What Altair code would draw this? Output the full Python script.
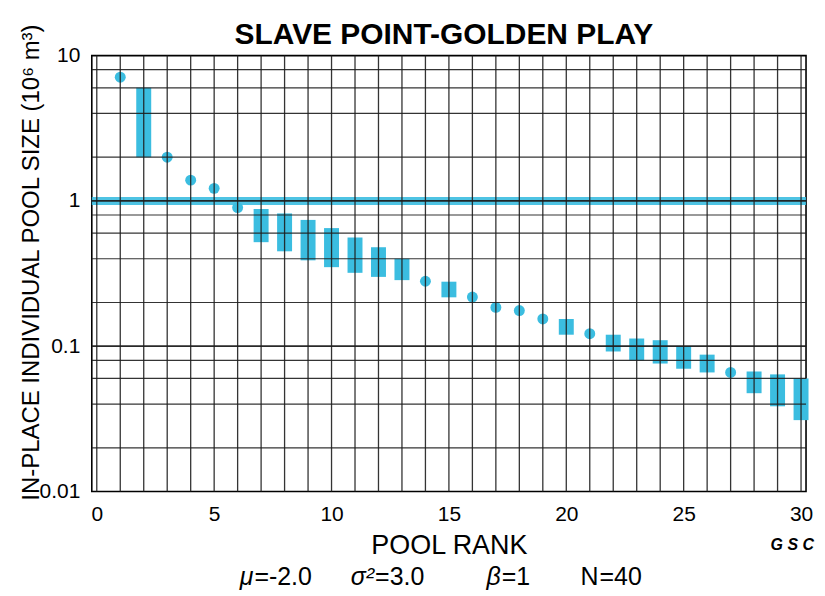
import altair as alt
import pandas as pd

# ---- data ----
circle_rank = [1, 3, 4, 5, 6, 14, 16, 17, 18, 19, 21, 27]
circle_size = [7.1, 2.0, 1.39, 1.22, 0.90, 0.28, 0.218, 0.185, 0.176, 0.154, 0.122, 0.066]

bar_rank = [2, 7, 8, 9, 10, 11, 12, 13, 15, 20, 22, 23, 24, 25, 26, 28, 29, 30]
bar_hi = [6.0, 0.88, 0.82, 0.74, 0.65, 0.56, 0.48, 0.40, 0.278, 0.154, 0.120, 0.113, 0.110, 0.100, 0.0875, 0.067, 0.064, 0.060]
bar_lo = [2.0, 0.52, 0.45, 0.39, 0.35, 0.32, 0.30, 0.285, 0.217, 0.120, 0.092, 0.080, 0.076, 0.070, 0.066, 0.0475, 0.0386, 0.031]

reference_line = [1.0]

x_ticks = [0, 5, 10, 15, 20, 25, 30]
y_ticks = [0.01, 0.1, 1, 10]
x_grid = list(range(0, 31))
y_grid_minor = [0.02, 0.04, 0.06, 0.08, 0.2, 0.4, 0.6, 0.8, 2, 4, 6, 8]
y_grid_major = [0.1, 1]

param_names = ["\u03bc", "\u03c3\u00b2", "\u03b2", "N"]
param_values = ["=-2.0", "=3.0", "=1", "=40"]

title_text = "SLAVE POINT-GOLDEN PLAY"
x_title = "POOL RANK"
y_title = "IN-PLACE INDIVIDUAL POOL SIZE (10\u2076 m\u00b3)"
credit = "G S C"

# ---- styling ----
BLUE = "#3bbde0"
GRID = "#1e1e1e"
FONT = "Liberation Sans"
W, H = 716, 437

xs = alt.Scale(domain=[0, 30], nice=False, zero=False)
ys = alt.Scale(type="log", domain=[0.01, 10], nice=False)

circles_df = pd.DataFrame({"rank": circle_rank, "size": circle_size})
bars_df = pd.DataFrame({"rank": bar_rank, "hi": bar_hi, "lo": bar_lo})

x_axis = alt.Axis(values=x_ticks, title=x_title, grid=False, ticks=False, domain=False,
                  labelFontSize=21, labelFont=FONT, labelColor="black", labelPadding=12,
                  labelFlush=False, titleFont=FONT, titleFontSize=27, titleFontWeight="normal",
                  titleColor="black", titlePadding=8)
y_axis = alt.Axis(values=y_ticks, format="~g", title=y_title, grid=False, ticks=False, domain=False,
                  labelFontSize=21, labelFont=FONT, labelColor="black", labelPadding=12,
                  titleFont=FONT, titleFontSize=24, titleFontWeight="normal", titleColor="black",
                  titleAngle=270, titleX=-53, titleY=207, titleBaseline="alphabetic",
                  titleAlign="center")

bars = alt.Chart(bars_df).mark_bar(size=15, color=BLUE, opacity=1).encode(
    x=alt.X("rank:Q", scale=xs, axis=x_axis),
    y=alt.Y("lo:Q", scale=ys, axis=y_axis),
    y2="hi:Q",
)

circles = alt.Chart(circles_df).mark_circle(size=120, color=BLUE, opacity=1).encode(
    x=alt.X("rank:Q", scale=xs, axis=x_axis),
    y=alt.Y("size:Q", scale=ys, axis=y_axis),
)

band = alt.Chart(pd.DataFrame({"v": reference_line})).mark_rule(
    color=BLUE, strokeWidth=8, opacity=0.9).encode(y=alt.Y("v:Q", scale=ys, axis=y_axis))

vgrid = alt.Chart(pd.DataFrame({"g": x_grid})).mark_rule(
    color=GRID, strokeWidth=1.3, opacity=0.9).encode(x=alt.X("g:Q", scale=xs, axis=x_axis))
hgrid = alt.Chart(pd.DataFrame({"g": y_grid_minor})).mark_rule(
    color=GRID, strokeWidth=1.2, opacity=0.9).encode(y=alt.Y("g:Q", scale=ys, axis=y_axis))
hgrid_major = alt.Chart(pd.DataFrame({"g": y_grid_major})).mark_rule(
    color=GRID, strokeWidth=1.8, opacity=0.95).encode(y=alt.Y("g:Q", scale=ys, axis=y_axis))

layers = [band, bars, circles, vgrid, hgrid, hgrid_major]

# chart title as a text mark above the plot
title_layer = alt.Chart(pd.DataFrame({"t": [title_text]})).mark_text(
    font=FONT, fontSize=30, fontWeight="bold", align="center", baseline="alphabetic",
    color="black").encode(x=alt.value(353), y=alt.value(-12), text="t:N")
layers.append(title_layer)

# parameter line below the x-axis title
split_x = [162, 283, 410, 508]
for name, val, sx in zip(param_names, param_values, split_x):
    df = pd.DataFrame({"n": [name], "v": [val]})
    layers.append(alt.Chart(df).mark_text(font=FONT, fontSize=25, fontStyle="italic" if name != "N" else "normal",
                                          align="right", baseline="middle", color="black").encode(
        x=alt.value(sx), y=alt.value(523), text="n:N"))
    layers.append(alt.Chart(df).mark_text(font=FONT, fontSize=25, align="left", baseline="middle",
                                          color="black").encode(
        x=alt.value(sx + 1), y=alt.value(523), text="v:N"))

credit_layer = alt.Chart(pd.DataFrame({"c": [credit]})).mark_text(
    font=FONT, fontSize=16, fontWeight="bold", fontStyle="italic", align="right",
    baseline="middle", color="black").encode(x=alt.value(724), y=alt.value(491), text="c:N")
layers.append(credit_layer)

chart = alt.layer(*layers).properties(
    width=W, height=H,
    background="white",
    padding={"left": 84, "top": 47, "right": 11, "bottom": 100},
    autosize=alt.AutoSizeParams(type="none"),
).configure_view(stroke="black", strokeWidth=1.6)

chart.save("out.html", embed_options={"renderer": "svg", "actions": False})
